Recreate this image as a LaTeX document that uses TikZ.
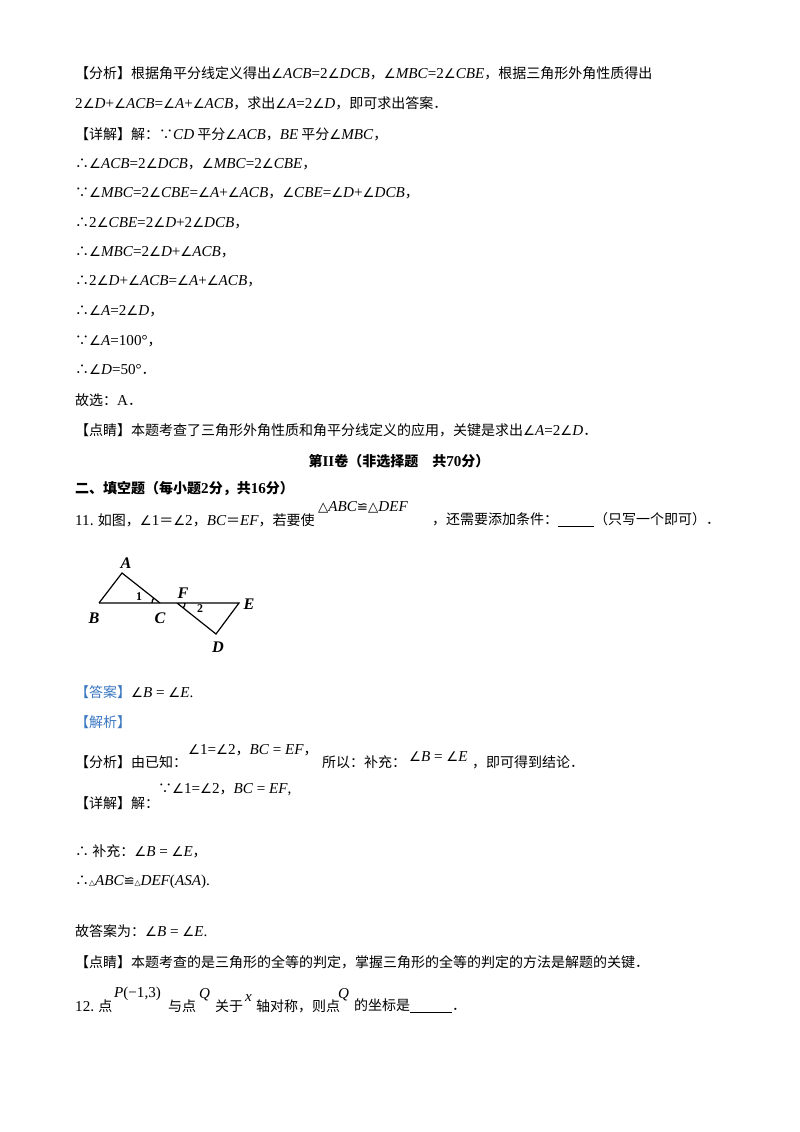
\documentclass[tikz,border=0pt]{standalone}
\usepackage{fontspec}
\setmainfont{Noto Sans CJK SC}
\newfontfamily\lat[Scale=1.08]{Liberation Serif}
\newfontfamily\djv[Scale=0.95]{DejaVu Sans}
\newcommand{\m}[1]{{\lat\itshape #1}}
\newcommand{\mr}[1]{{\lat #1}}
\newcommand{\an}{{\djv ∠}}
\newcommand{\cg}{{\djv ≌}}
\newcommand{\tri}{{\djv △}}
\definecolor{bl}{HTML}{3B78C2}
\begin{document}
\begin{tikzpicture}[x=1pt,y=-1pt,
  t/.style={anchor=west,inner sep=0pt,font=\fontsize{14}{16}\selectfont},
  lb/.style={inner sep=0pt,font=\fontsize{15}{17}\selectfont\lat\bfseries\itshape},
  ln/.style={line width=1.2pt}]
\useasboundingbox[fill=white] (0,0) rectangle (800,1132);
\node[t] (l1) at (75,73) {【分析】根据角平分线定义得出\an\m{ACB}\mr{=2}\an\m{DCB}，\an\m{MBC}\mr{=2}\an\m{CBE}，根据三角形外角性质得出};
\node[t] (l2) at (75,103) {\mr{2}\an\m{D}\mr{+}\an\m{ACB}\mr{=}\an\m{A}\mr{+}\an\m{ACB}，求出\an\m{A}\mr{=2}\an\m{D}，即可求出答案．};
\node[t] (l3) at (75,134) {【详解】解：∵\m{CD} 平分\an\m{ACB}，\m{BE} 平分\an\m{MBC}，};
\node[t] (l4) at (75,164) {∴\an\m{ACB}\mr{=2}\an\m{DCB}，\an\m{MBC}\mr{=2}\an\m{CBE}，};
\node[t] (l5) at (75,193) {∵\an\m{MBC}\mr{=2}\an\m{CBE}\mr{=}\an\m{A}\mr{+}\an\m{ACB}，\an\m{CBE}\mr{=}\an\m{D}\mr{+}\an\m{DCB}，};
\node[t] (l6) at (75,223) {∴\mr{2}\an\m{CBE}\mr{=2}\an\m{D}\mr{+2}\an\m{DCB}，};
\node[t] (l7) at (75,252) {∴\an\m{MBC}\mr{=2}\an\m{D}\mr{+}\an\m{ACB}，};
\node[t] (l8) at (75,281) {∴\mr{2}\an\m{D}\mr{+}\an\m{ACB}\mr{=}\an\m{A}\mr{+}\an\m{ACB}，};
\node[t] (l9) at (75,311) {∴\an\m{A}\mr{=2}\an\m{D}，};
\node[t] (l10) at (75,341) {∵\an\m{A}\mr{=100°}，};
\node[t] (l11) at (75,370) {∴\an\m{D}\mr{=50°}．};
\node[t] (l12) at (75,400) {故选：\mr{A}．};
\node[t] (l13) at (75,430) {【点睛】本题考查了三角形外角性质和角平分线定义的应用，关键是求出\an\m{A}\mr{=2}\an\m{D}．};
\node[t,anchor=center,font=\fontsize{14}{16}\selectfont\bfseries] (h1) at (399,461) {第\mr{\bfseries II}卷（非选择题\quad 共\mr{\bfseries 70}分）};
\node[t,font=\fontsize{14}{16}\selectfont\bfseries] (h2) at (75,489) {二、填空题（每小题\mr{\bfseries 2}分，共\mr{\bfseries 16}分）};
\node[t] (q11) at (75,520) {\mr{11}. 如图，\an\mr{1}＝\an\mr{2}，\m{BC}＝\m{EF}，若要使};
\node[t] (q11b) at (318,507) {\tri\m{ABC}\cg\tri\m{DEF}};
\node[t] (q11c) at (432,520) {，还需要添加条件：\underline{\hspace{36pt}}（只写一个即可）．};
% figure
\coordinate (A) at (122,573); \coordinate (B) at (99,603); \coordinate (C) at (160,603);
\coordinate (F) at (177,603); \coordinate (D) at (216,634); \coordinate (E) at (239,603);
\draw[ln] (B) -- (A) -- (C); \draw[ln] (B) -- (E) -- (D) -- (F);
\draw[line width=1.3pt] ([shift={(180:8)}]C) arc[start angle=180,end angle=218,radius=8];
\draw[line width=1.3pt] ([shift={(0:8)}]F) arc[start angle=0,end angle=38,radius=8];
\node[lb] (lA) at (126,563) {A}; \node[lb] (lB) at (94,618) {B}; \node[lb] (lC) at (160,618) {C};
\node[lb] (lF) at (183,593) {F}; \node[lb] (lE) at (249,604) {E}; \node[lb] (lD) at (218,647) {D};
\node[inner sep=0pt,font=\fontsize{11}{12}\selectfont\lat\bfseries] (n1) at (139,597) {1};
\node[inner sep=0pt,font=\fontsize{11}{12}\selectfont\lat\bfseries] (n2) at (200,609) {2};
% answers
\node[t] (a1) at (75,692) {\textcolor{bl}{【答案】}\an\m{B}\mr{ = }\an\m{E}\mr{.}};
\node[t] (a2) at (75,722) {\textcolor{bl}{【解析】}};
\node[t] (a3) at (75,762) {【分析】由已知：};
\node[t] (a3b) at (188,750) {\an\mr{1=}\an\mr{2}，\m{BC}\mr{ = }\m{EF}，};
\node[t] (a3c) at (322,762) {所以：补充：};
\node[t] (a3d) at (409,757) {\an\m{B}\mr{ = }\an\m{E}};
\node[t] (a3e) at (472,762) {，即可得到结论．};
\node[t] (a4) at (75,803) {【详解】解：};
\node[t] (a4b) at (158,790) {∵\an\mr{1=}\an\mr{2}，\m{BC}\mr{ = }\m{EF}\mr{,}};
\node[t] (a5) at (75,851) {∴\ 补充：\an\m{B}\mr{ = }\an\m{E}，};
\node[t] (a6) at (75,882) {∴{\djv\footnotesize △}\m{ABC}\cg{\djv\footnotesize △}\m{DEF}\mr{(}\m{ASA}\mr{)}\mr{.}};
\node[t] (a7) at (75,931) {故答案为：\an\m{B}\mr{ = }\an\m{E}\mr{.}};
\node[t] (a8) at (75,962) {【点睛】本题考查的是三角形的全等的判定，掌握三角形的全等的判定的方法是解题的关键．};
\node[t] (q12) at (75,1006) {\mr{12}. 点};
\node[t] (q12b) at (114,994) {\m{P}\mr{(−1,3)}};
\node[t] (q12c) at (168,1006) {与点};
\node[t] (q12d) at (199,995) {\m{Q}};
\node[t] (q12e) at (215,1006) {关于};
\node[t] (q12f) at (245,998) {\m{x}};
\node[t] (q12g) at (256,1006) {轴对称，则点};
\node[t] (q12h) at (338,995) {\m{Q}};
\node[t] (q12i) at (354,1006) {的坐标是\underline{\hspace{42pt}}．};
\end{tikzpicture}
\end{document}
